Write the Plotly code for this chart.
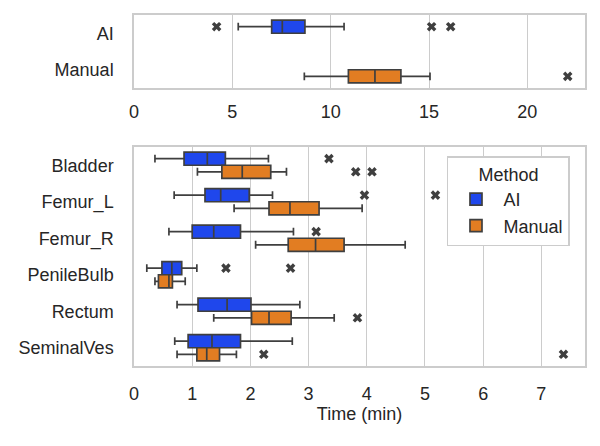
import plotly.graph_objects as go
from plotly.subplots import make_subplots

# ---------------- data ----------------
methods = ["AI", "Manual"]
# top panel: total time per method (min)
tot_low = [5.30, 8.66]
tot_q1 = [7.00, 10.90]
tot_med = [7.54, 12.25]
tot_q3 = [8.69, 13.57]
tot_high = [10.68, 15.05]
tot_out_ai = [4.2, 15.13, 16.1]
tot_out_manual = [22.05]

# bottom panel: per structure
structures = ["Bladder", "Femur_L", "Femur_R", "PenileBulb", "Rectum", "SeminalVes"]
ai_low = [0.36, 0.69, 0.60, 0.22, 0.74, 0.70]
ai_q1 = [0.86, 1.22, 1.00, 0.48, 1.10, 0.93]
ai_med = [1.26, 1.49, 1.37, 0.65, 1.60, 1.34]
ai_q3 = [1.57, 1.98, 1.83, 0.82, 2.01, 1.83]
ai_high = [2.31, 2.38, 2.74, 1.08, 2.85, 2.72]
man_low = [1.09, 1.72, 2.09, 0.36, 1.37, 0.74]
man_q1 = [1.51, 2.32, 2.65, 0.42, 2.02, 1.08]
man_med = [1.86, 2.68, 3.12, 0.60, 2.32, 1.25]
man_q3 = [2.35, 3.18, 3.61, 0.66, 2.70, 1.47]
man_high = [2.62, 3.92, 4.66, 0.88, 3.44, 1.76]
ai_out_struct = ["Bladder", "Femur_L", "Femur_L", "Femur_R", "PenileBulb", "PenileBulb"]
ai_out_vals = [3.35, 3.96, 5.18, 3.13, 1.58, 2.69]
man_out_struct = ["Bladder", "Bladder", "Rectum", "SeminalVes", "SeminalVes"]
man_out_vals = [3.81, 4.09, 3.84, 2.23, 7.38]

top_ticks = [0, 5, 10, 15, 20]
bottom_ticks = [0, 1, 2, 3, 4, 5, 6, 7]

# ---------------- style ----------------
BLUE = "#1f47ec"
ORANGE = "#e27d22"
EDGE = "#3f3f3f"
GRID = "#cccccc"
FONT = "Liberation Sans, Arial, sans-serif"
FS = 18

fig = make_subplots(rows=2, cols=1, vertical_spacing=0.0)


def box(y, q1, med, q3, lo, hi, name, color, group, legend):
    return go.Box(orientation="h", y=y, q1=q1, median=med, q3=q3,
                  lowerfence=lo, upperfence=hi, name=name,
                  fillcolor=color, line=dict(color=EDGE, width=1.7),
                  whiskerwidth=0.6, boxpoints=False, showlegend=legend,
                  offsetgroup=name, alignmentgroup=group)


def fliers(x, y, name, group):
    return go.Scatter(x=x, y=y, mode="markers", orientation="h",
                      offsetgroup=name, alignmentgroup=group,
                      marker=dict(symbol="x", size=8.5, color=EDGE),
                      showlegend=False, name=name)


# top panel
fig.add_trace(box(["AI"], [tot_q1[0]], [tot_med[0]], [tot_q3[0]], [tot_low[0]], [tot_high[0]],
                  "AI", BLUE, "top", False), row=1, col=1)
fig.add_trace(box(["Manual"], [tot_q1[1]], [tot_med[1]], [tot_q3[1]], [tot_low[1]], [tot_high[1]],
                  "Manual", ORANGE, "top", False), row=1, col=1)
fig.add_trace(fliers(tot_out_ai, ["AI"] * len(tot_out_ai), "AI", "top"), row=1, col=1)
fig.add_trace(fliers(tot_out_manual, ["Manual"] * len(tot_out_manual), "Manual", "top"), row=1, col=1)

# bottom panel
fig.add_trace(box(structures, ai_q1, ai_med, ai_q3, ai_low, ai_high,
                  "AI", BLUE, "bottom", True), row=2, col=1)
fig.add_trace(box(structures, man_q1, man_med, man_q3, man_low, man_high,
                  "Manual", ORANGE, "bottom", True), row=2, col=1)
fig.add_trace(fliers(ai_out_vals, ai_out_struct, "AI", "bottom"), row=2, col=1)
fig.add_trace(fliers(man_out_vals, man_out_struct, "Manual", "bottom"), row=2, col=1)

axis_common = dict(showline=True, mirror=True, linecolor=GRID, linewidth=1.5,
                   zeroline=False, ticks="", automargin=False,
                   tickfont=dict(size=FS, color="#262626"))

fig.update_xaxes(**axis_common, showgrid=True, gridcolor=GRID, gridwidth=1.25)
fig.update_yaxes(**axis_common, showgrid=False, autorange="reversed",
                 ticklabelstandoff=15)

fig.update_xaxes(range=[0, 22.93], tickvals=top_ticks, ticklabelstandoff=7, row=1, col=1)
fig.update_xaxes(range=[0, 7.75], tickvals=bottom_ticks, ticklabelstandoff=11,
                 title=dict(text="Time (min)", font=dict(size=FS, color="#262626"), standoff=4),
                 row=2, col=1)
fig.update_yaxes(domain=[0.792, 1.0], categoryorder="array", categoryarray=methods, row=1, col=1)
fig.update_yaxes(domain=[0.0, 0.624], categoryorder="array", categoryarray=structures, row=2, col=1)

fig.update_layout(
    width=600, height=446,
    margin=dict(l=134, r=15, t=15, b=80, autoexpand=False),
    paper_bgcolor="white", plot_bgcolor="white",
    font=dict(family=FONT, size=FS, color="#262626"),
    boxmode="group", boxgap=0.28, boxgroupgap=0.0,
    scattermode="group", scattergap=0.28,
    legend=dict(x=0.694, y=0.598, xanchor="left", yanchor="top",
                title=dict(text="Method", side="top center", font=dict(size=FS)),
                bordercolor=GRID, borderwidth=1.5, bgcolor="white",
                font=dict(size=FS), itemwidth=45),
)

fig.write_html("out.html", config={"displayModeBar": False},
               post_script="document.body.style.margin='0';")
